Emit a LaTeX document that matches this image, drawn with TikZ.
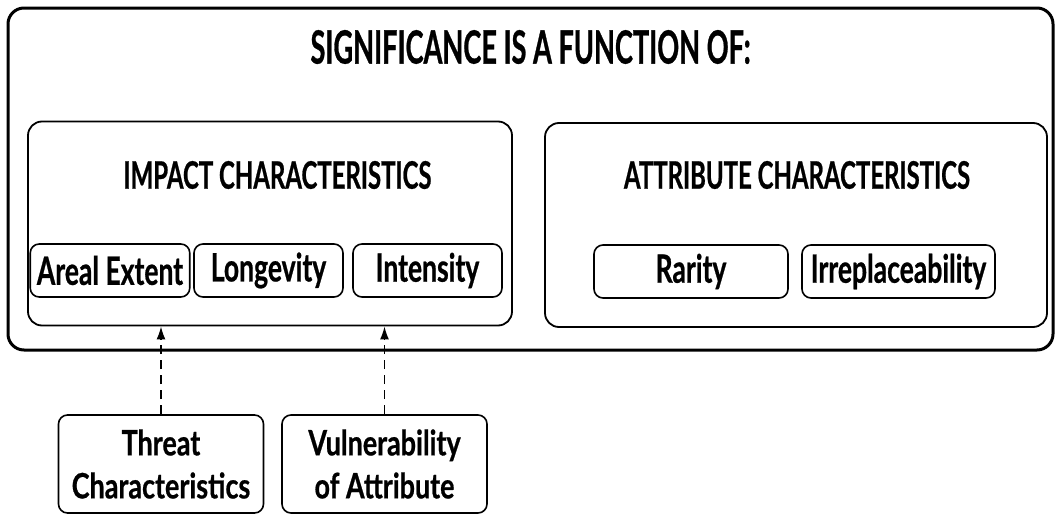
\documentclass[tikz,border=0pt]{standalone}
\usepackage{fontspec}
\setmainfont[FakeStretch=0.59,FakeBold=0.6]{Lato Bold}
\newfontfamily\headfont[FakeStretch=0.63,FakeBold=0.6]{Lato Bold}
\newfontfamily\itemfont[FakeStretch=0.68,FakeBold=0.6]{Lato Bold}
\newfontfamily\sourcefont[FakeStretch=0.77,FakeBold=0.6]{Lato Bold}
\usetikzlibrary{arrows.meta}

\begin{document}
\begin{tikzpicture}[x=0.5pt,y=-0.5pt,
  outer/.style={draw,line width=1.5pt,rounded corners=8pt,minimum width=522.5pt,minimum height=171pt},
  group/.style={draw,line width=0.9pt,rounded corners=7pt,minimum height=102pt},
  item/.style={draw,line width=0.8pt,rounded corners=4.5pt,minimum height=26.5pt,font=\itemfont\fontsize{19.5}{22}\selectfont},
  source/.style={draw,line width=0.8pt,rounded corners=4.5pt,minimum width=102.5pt,minimum height=49pt,align=center,font=\sourcefont\fontsize{17.5}{21.5}\selectfont},
  head/.style={font=\headfont\fontsize{19}{22}\selectfont},
  link/.style={-{Latex[length=6.5pt,width=4.5pt]},line width=0.8pt,dash pattern=on 4.5pt off 3pt}]
\useasboundingbox (0,0) rectangle (1055,514);
\node[outer] (sig) at (530.5,179) {};
\node[font=\fontsize{23}{26}\selectfont] (title) at (530.5,47) {SIGNIFICANCE IS A FUNCTION OF:};
% impact side
\node[group,minimum width=242pt] (impact) at (270,223.5) {};
\node[head] (impacthead) at (277.5,175) {IMPACT CHARACTERISTICS};
\node[item,minimum width=74pt] (areal) at (110,270.5) {Areal Extent};
\node[item,minimum width=74.5pt] (longevity) at (268.5,270.5) {Longevity};
\node[item,minimum width=74.5pt] (intensity) at (427.5,270.5) {Intensity};
% attribute side
\node[group,minimum width=251pt] (attribute) at (796,225) {};
\node[head] (attrhead) at (797,175) {ATTRIBUTE CHARACTERISTICS};
\node[item,minimum width=97pt] (rarity) at (691,271.5) {Rarity};
\node[item,minimum width=96.5pt] (irrepl) at (898.5,271.5) {Irreplaceability};
% inputs
\node[source] (threat) at (161,464) {Threat\\Characteristics};
\node[source] (vuln) at (384.5,464) {Vulnerability\\of Attribute};
\draw[link] (threat.north) -- (threat.north |- impact.south);
\draw[link] (vuln.north) -- (vuln.north |- impact.south);
\end{tikzpicture}
\end{document}
